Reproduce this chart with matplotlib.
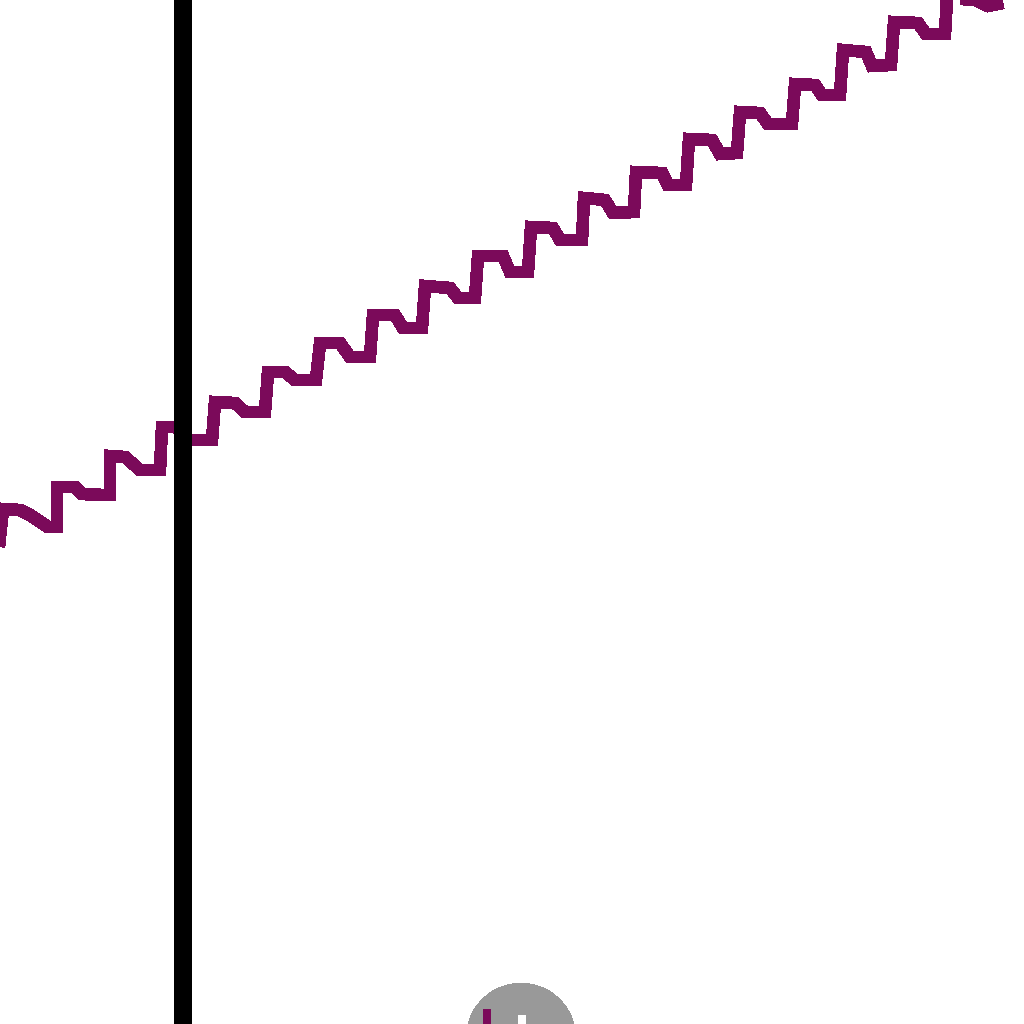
import matplotlib
matplotlib.use("Agg")
import matplotlib.pyplot as plt
from matplotlib.patches import Circle

# readings of the zoomed fragment (horizontal position, level measured from the top)
t = [-2, 3, 20, 30, 48, 57, 57, 75, 82, 104, 110, 110, 125, 140, 160, 162, 175, 190, 212,
     215, 235, 245, 265, 268, 285, 295, 316, 320, 340, 350, 370, 373, 395, 403, 422, 425,
     450, 458, 475, 478, 503, 510, 528, 531, 553, 560, 582, 584, 605, 613, 634, 636, 662,
     668, 686, 689, 712, 720, 737, 740, 760, 768, 792, 795, 815, 822, 840, 843, 866, 872,
     891, 894, 918, 926, 945, 947, 975, 988, 1003]
level = [556, 509, 510, 515, 527, 527, 487, 487, 494, 495, 495, 456, 457, 470, 470, 427, 427,
         440, 440, 402, 403, 412, 412, 372, 372, 380, 380, 343, 343, 357, 357, 315, 315, 328,
         328, 286, 288, 298, 298, 256, 256, 272, 272, 227, 228, 240, 240, 198, 200, 213, 212,
         172, 173, 185, 185, 139, 140, 154, 153, 112, 113, 124, 124, 84, 85, 95, 95, 50, 52,
         66, 65, 22, 23, 34, 34, -2, 0, 6, 3]

marker_x = [183]            # vertical reference line
blob_xy = (521, 1038)       # grey marker partly visible at the bottom
blob_r = 54

fig = plt.figure(figsize=(10.24, 10.24), dpi=100)
ax = fig.add_axes([0, 0, 1, 1])
ax.axis('off')
ax.set_xlim(0, 1024)
ax.set_ylim(1024, 0)

ax.plot(t, level, color='#7b0a5a', lw=8.4, solid_joinstyle='miter',
        solid_capstyle='butt', antialiased=False, zorder=2)
for xv in marker_x:
    ax.axvline(xv, color='black', lw=11.8, antialiased=False, zorder=3)

ax.add_patch(Circle(blob_xy, blob_r, color='#999999', antialiased=False, zorder=1))
ax.plot([487, 487], [1013, 1030], color='#7b0a5a', lw=4.5, antialiased=False, zorder=2)
ax.plot([522, 522], [1019, 1030], color='white', lw=4.5, antialiased=False, zorder=2)

fig.savefig("out.png", dpi=100)
